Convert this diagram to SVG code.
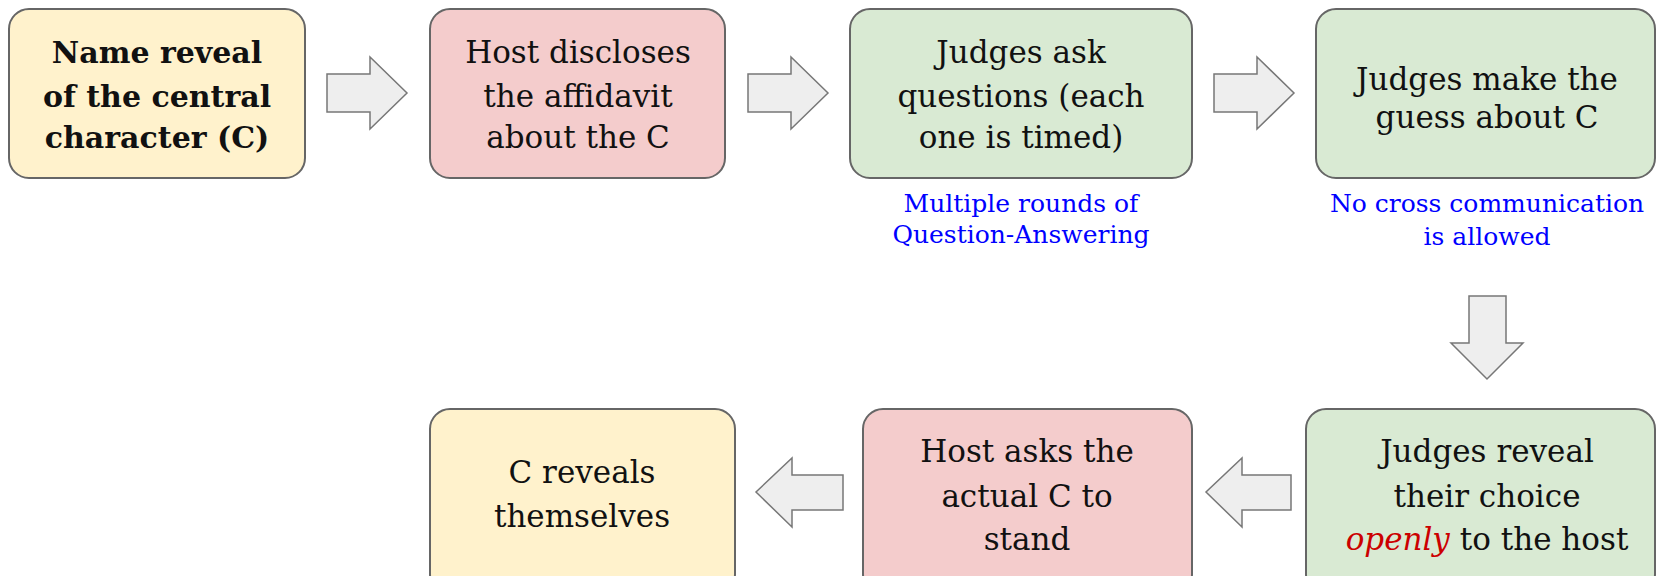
<svg xmlns="http://www.w3.org/2000/svg" width="1656" height="576" viewBox="0 0 1656 576">
<style>
.box{stroke:#666;stroke-width:2}
.y{fill:#fff2cc}.r{fill:#f4cccc}.g{fill:#d9ead3}
.arr{fill:#eeeeee;stroke:#777;stroke-width:1.5;stroke-linejoin:miter}
text{font-family:"DejaVu Serif","Liberation Serif",serif;text-anchor:middle;fill:#111}
.t{font-size:31px}
.b{font-weight:bold;font-size:30px}
.cap{font-size:25px;fill:#0000ff}
.em{fill:#cc0000;font-style:italic}
</style>
<rect width="1656" height="576" fill="#fff"/>
<g id="n1">
<rect class="box y" x="9" y="9" width="296" height="169" rx="20"/>
<text class="t b" x="157"><tspan x="157" y="63">Name reveal</tspan><tspan x="157" y="107">of the central</tspan><tspan x="157" y="148">character (C)</tspan></text>
</g>
<g id="n2">
<rect class="box r" x="430" y="9" width="295" height="169" rx="20"/>
<text class="t" x="578"><tspan x="578" y="63">Host discloses</tspan><tspan x="578" y="107">the affidavit</tspan><tspan x="578" y="148">about the C</tspan></text>
</g>
<g id="n3">
<rect class="box g" x="850" y="9" width="342" height="169" rx="20"/>
<text class="t" x="1021"><tspan x="1021" y="63">Judges ask</tspan><tspan x="1021" y="107">questions (each</tspan><tspan x="1021" y="148">one is timed)</tspan></text>
<text class="cap" x="1021"><tspan x="1021" y="212">Multiple rounds of</tspan><tspan x="1021" y="243">Question-Answering</tspan></text>
</g>
<g id="n4">
<rect class="box g" x="1316" y="9" width="339" height="169" rx="20"/>
<text class="t" x="1487"><tspan x="1487" y="90">Judges make the</tspan><tspan x="1487" y="128">guess about C</tspan></text>
<text class="cap" x="1487"><tspan x="1487" y="212">No cross communication</tspan><tspan x="1487" y="245">is allowed</tspan></text>
</g>
<g id="n5">
<rect class="box g" x="1306" y="409" width="349" height="185" rx="20"/>
<text class="t" x="1487"><tspan x="1487" y="462">Judges reveal</tspan><tspan x="1487" y="507">their choice</tspan><tspan x="1487" y="550"><tspan class="em">openly</tspan> to the host</tspan></text>
</g>
<g id="n6">
<rect class="box r" x="863" y="409" width="329" height="185" rx="20"/>
<text class="t" x="1027"><tspan x="1027" y="462">Host asks the</tspan><tspan x="1027" y="507">actual C to</tspan><tspan x="1027" y="550">stand</tspan></text>
</g>
<g id="n7">
<rect class="box y" x="430" y="409" width="305" height="185" rx="20"/>
<text class="t" x="582"><tspan x="582" y="483">C reveals</tspan><tspan x="582" y="527">themselves</tspan></text>
</g>
<g id="connectors">
<polygon class="arr" points="327,74 370,74 370,57 407,93 370,129 370,112 327,112"/>
<polygon class="arr" points="748,74 791,74 791,57 828,93 791,129 791,112 748,112"/>
<polygon class="arr" points="1214,74 1257,74 1257,57 1294,93 1257,129 1257,112 1214,112"/>
<polygon class="arr" points="1469,296 1506,296 1506,343 1523,343 1487,379 1451,343 1469,343"/>
<polygon class="arr" points="1291,475 1242,475 1242,458 1206,492 1242,527 1242,510 1291,510"/>
<polygon class="arr" points="843,475 792,475 792,458 756,492 792,527 792,510 843,510"/>
</g>
</svg>
